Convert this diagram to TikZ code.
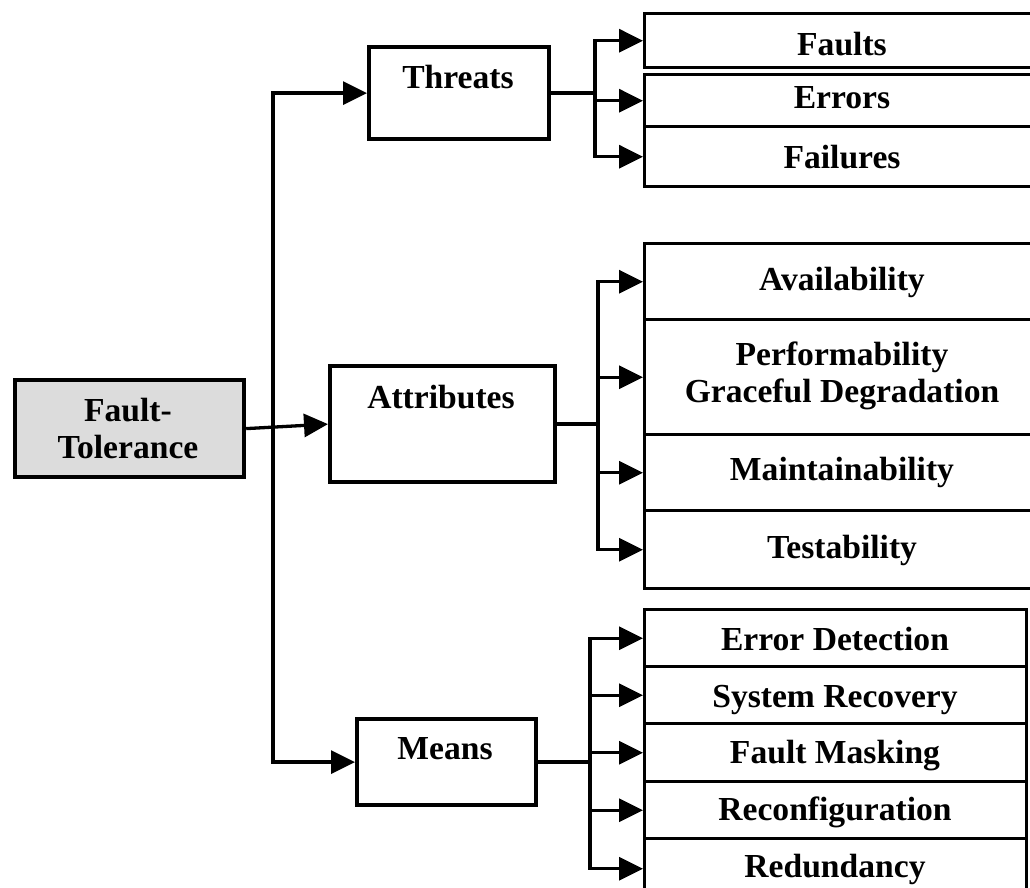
\documentclass[tikz,border=0pt]{standalone}
\usepackage{fontspec}
\setmainfont{Liberation Serif}
\usetikzlibrary{arrows.meta}
\definecolor{rootfill}{HTML}{DCDCDC}
\begin{document}
\begin{tikzpicture}[x=1pt,y=-1pt,
  box/.style={draw, line width=4.2pt, rectangle, inner sep=0pt, anchor=north west},
  cell/.style={draw, line width=3.4pt, rectangle, inner sep=0pt, anchor=north west},
  lbl/.style={font=\fontsize{33.6}{37}\selectfont\bfseries, align=center, inner sep=0pt},
  conn/.style={line width=3.3pt},
  arr/.style={conn, -{Triangle[length=24pt,width=23pt]}},
]
\useasboundingbox (0,0) rectangle (1030,887);
\clip (0,0) rectangle (1030,887);

% root and second level boxes
\node[box, fill=rootfill, minimum width=229pt, minimum height=97pt] (ft) at (13,378) {};
\node[lbl] (ftT) at (128,428) {Fault-\\Tolerance};

\node[box, minimum width=180pt, minimum height=92pt] (threats) at (367,45) {};
\node[lbl, anchor=base] (threatsT) at (458,88) {Threats};

\node[box, minimum width=225pt, minimum height=116pt] (attr) at (328,364) {};
\node[lbl, anchor=base] (attrT) at (441,408) {Attributes};

\node[box, minimum width=179pt, minimum height=86pt] (means) at (355,717) {};
\node[lbl, anchor=base] (meansT) at (445,759) {Means};

% threats cells
\node[cell, minimum width=402pt, minimum height=54pt] (faults) at (643,12) {};
\node[cell, minimum width=402pt, minimum height=52pt] (errors) at (643,73) {};
\node[cell, minimum width=402pt, minimum height=60pt] (failures) at (643,125) {};
\node[lbl, anchor=base] (faultsT) at (842,55) {Faults};
\node[lbl, anchor=base] (errorsT) at (842,108) {Errors};
\node[lbl, anchor=base] (failuresT) at (842,168) {Failures};

% attributes cells
\node[cell, minimum width=402pt, minimum height=76pt] (avail) at (643,242) {};
\node[cell, minimum width=402pt, minimum height=115pt] (perf) at (643,318) {};
\node[cell, minimum width=402pt, minimum height=76pt] (maint) at (643,433) {};
\node[cell, minimum width=402pt, minimum height=78pt] (test) at (643,509) {};
\node[lbl, anchor=base] (availT) at (842,290) {Availability};
\node[lbl] (perfT) at (842,376) {Performability\\Graceful Degradation};
\node[lbl, anchor=base] (maintT) at (842,480) {Maintainability};
\node[lbl, anchor=base] (testT) at (842,558) {Testability};

% means cells
\node[cell, minimum width=382pt, minimum height=57pt] (detect) at (643,608) {};
\node[cell, minimum width=382pt, minimum height=57pt] (recov) at (643,665) {};
\node[cell, minimum width=382pt, minimum height=58pt] (mask) at (643,722) {};
\node[cell, minimum width=382pt, minimum height=57pt] (reconf) at (643,780) {};
\node[cell, minimum width=382pt, minimum height=60pt] (redund) at (643,837) {};
\node[lbl, anchor=base] (detectT) at (835,650) {Error Detection};
\node[lbl, anchor=base] (recovT) at (835,707) {System Recovery};
\node[lbl, anchor=base] (maskT) at (835,763) {Fault Masking};
\node[lbl, anchor=base] (reconfT) at (835,820) {Reconfiguration};
\node[lbl, anchor=base] (redundT) at (835,877) {Redundancy};

% root connectors
\coordinate (trunkTop) at (273,0 |- threats.west);
\coordinate (trunkBot) at (273,0 |- means.west);
\draw[arr] (ft.east) -- (attr.west);
\draw[conn] (trunkTop) -- (trunkBot);
\draw[arr] ([xshift=-1.65pt]trunkTop) -- (threats.west);
\draw[arr] ([xshift=-1.65pt]trunkBot) -- (means.west);

% threats bracket
\coordinate (tj) at (595,0 |- threats.east);
\draw[conn] (threats.east) -- (tj);
\draw[conn] ([yshift=-1.65pt]tj |- faults.west) -- ([yshift=1.65pt]tj |- failures.west);
\draw[arr] ([xshift=-1.65pt]tj |- faults.west) -- (faults.west);
\draw[arr] (tj |- errors.west) -- (errors.west);
\draw[arr] ([xshift=-1.65pt]tj |- failures.west) -- (failures.west);

% attributes bracket
\coordinate (aj) at (598,0 |- attr.east);
\draw[conn] (attr.east) -- (aj);
\draw[conn] ([yshift=-1.65pt]aj |- avail.west) -- ([yshift=1.65pt]aj |- test.west);
\draw[arr] ([xshift=-1.65pt]aj |- avail.west) -- (avail.west);
\draw[arr] (aj |- perf.west) -- (perf.west);
\draw[arr] (aj |- maint.west) -- (maint.west);
\draw[arr] ([xshift=-1.65pt]aj |- test.west) -- (test.west);

% means bracket
\coordinate (mj) at (590,0 |- means.east);
\draw[conn] (means.east) -- (mj);
\draw[conn] ([yshift=-1.65pt]mj |- detect.west) -- ([yshift=1.65pt]mj |- redund.west);
\draw[arr] ([xshift=-1.65pt]mj |- detect.west) -- (detect.west);
\draw[arr] (mj |- recov.west) -- (recov.west);
\draw[arr] (mj |- mask.west) -- (mask.west);
\draw[arr] (mj |- reconf.west) -- (reconf.west);
\draw[arr] ([xshift=-1.65pt]mj |- redund.west) -- (redund.west);
\end{tikzpicture}
\end{document}
